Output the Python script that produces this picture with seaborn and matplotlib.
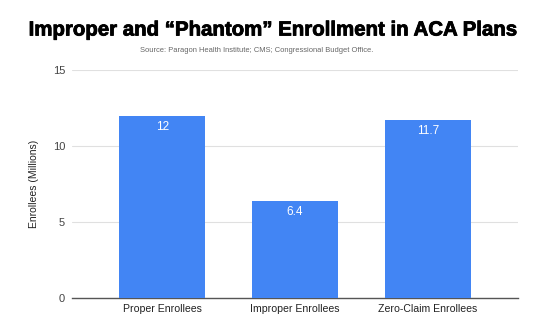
import matplotlib
matplotlib.use("Agg")
import matplotlib.pyplot as plt
import matplotlib.patheffects as pe
import seaborn as sns
import pandas as pd

categories = ["Proper Enrollees", "Improper Enrollees", "Zero-Claim Enrollees"]
values = [12, 6.4, 11.7]
labels = ["12", "6.4", "11.7"]
yticks = [0, 5, 10, 15]

sns.set_theme(style="white")
plt.rcParams['font.family'] = ['Liberation Sans', 'DejaVu Sans']

df = pd.DataFrame({"cat": categories, "val": values})
fig = plt.figure(figsize=(5.5, 3.24), dpi=100)
ax = fig.add_axes([72/550, 1 - 298/324, (518-72)/550, (298-70)/324])
sns.barplot(data=df, x="cat", y="val", color="#4285F4", saturation=1, width=0.65, ax=ax, zorder=3)
for p in ax.patches:
    p.set_edgecolor("none")
for p, lab in zip(ax.patches, labels):
    ax.text(p.get_x() + p.get_width()/2, p.get_height() - 0.35, lab, ha="center", va="top",
            color="white", fontsize=8.5)
ax.set_ylim(0, 15)
ax.set_xlim(-0.68, 2.68)
ax.set_yticks(yticks)
ax.set_yticklabels([str(t) for t in yticks], fontsize=8, color="#444444")
ax.tick_params(axis="x", labelsize=7.6, labelcolor="#222222", length=0, pad=4)
ax.tick_params(axis="y", length=0, pad=5)
ax.yaxis.grid(True, color="#e0e0e0", linewidth=0.8, zorder=0)
ax.set_axisbelow(True)
for s in ["top", "right", "left"]:
    ax.spines[s].set_visible(False)
ax.spines["bottom"].set_color("#555555")
ax.spines["bottom"].set_linewidth(1)
ax.set_xlabel("")
ax.set_ylabel("Enrollees (Millions)", fontsize=7.5, color="#222222", labelpad=10)

fig.text(272/550, 1 - 30/324, "Improper and \u201cPhantom\u201d Enrollment in ACA Plans", ha="center", va="center",
         fontsize=14.7, fontweight="heavy", color="black",
         path_effects=[pe.withStroke(linewidth=0.6, foreground="black")])
fig.text(257/550, 1 - 51/324, "Source: Paragon Health Institute; CMS; Congressional Budget Office.", ha="center",
         va="center", fontsize=5.4, color="#666666")

fig.savefig("out.png", dpi=100)
